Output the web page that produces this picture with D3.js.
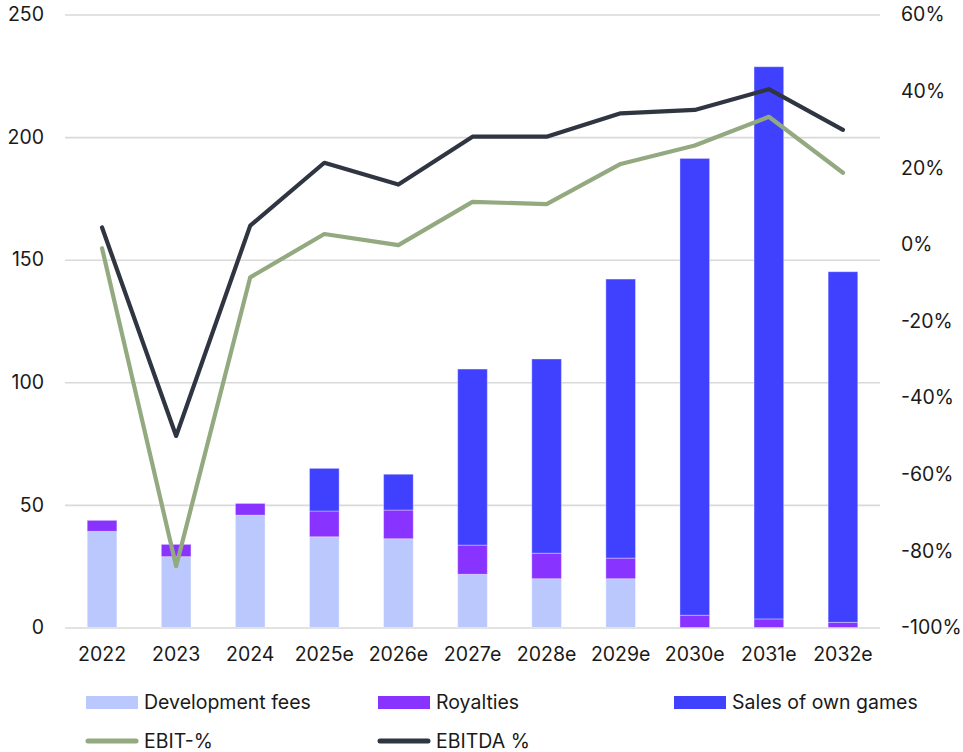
<!DOCTYPE html>
<html>
<head>
<meta charset="utf-8">
<script src="https://cdn.jsdelivr.net/npm/d3@7"></script>
<style>
  html, body { margin: 0; padding: 0; background: #fff; }
  svg { display: block; }
  text { font-family: Inter, "Liberation Sans", Arial, sans-serif; fill: #1a1a1a; }
</style>
</head>
<body>
<svg id="chart" width="963" height="752"></svg>
<script>
const categories = ["2022","2023","2024","2025e","2026e","2027e","2028e","2029e","2030e","2031e","2032e"];
const developmentFees = [39.2, 28.9, 45.8, 37.0, 36.2, 21.7, 19.9, 19.9, 0, 0, 0];
const royalties       = [4.5, 5.0, 4.8, 10.5, 11.7, 11.9, 10.4, 8.4, 5.0, 3.5, 2.1];
const salesOwnGames   = [0, 0, 0, 17.4, 14.6, 71.8, 79.2, 113.8, 186.3, 225.2, 143.0];
const ebitPct   = [-1.0, -84.0, -8.6, 2.7, -0.2, 11.1, 10.5, 21.0, 25.8, 33.3, 18.7];
const ebitdaPct = [4.4, -50.0, 4.9, 21.3, 15.6, 28.1, 28.1, 34.2, 35.1, 40.5, 29.9];
const leftTicks  = [0, 50, 100, 150, 200, 250];
const rightTicks = [-100, -80, -60, -40, -20, 0, 20, 40, 60];
const barSeriesNames = ["Development fees", "Royalties", "Sales of own games"];
const barColors = ["#bbc8fd", "#8833ff", "#4040ff"];
const lineSeriesNames = ["EBIT-%", "EBITDA %"];
const lineColors = ["#93a97f", "#2f3642"];

const svg = d3.select("#chart");
const pLeft = 65, pRight = 880, pTop = 14.5, pBottom = 627.5;
const FONT = "Inter, 'Liberation Sans', Arial, sans-serif";

const x = d3.scaleBand().domain(categories).range([pLeft, pRight]).paddingInner(0.6).paddingOuter(0.3);
const yL = d3.scaleLinear().domain([0, 250]).range([pBottom, pTop]);
const yR = d3.scaleLinear().domain([-100, 60]).range([pBottom, pTop]);

// gridlines
const grid = svg.append("g").attr("transform", `translate(${pLeft},0)`)
  .call(d3.axisLeft(yL).tickValues(leftTicks).tickSize(-(pRight - pLeft)).tickFormat(""));
grid.select(".domain").remove();
grid.selectAll("line").attr("stroke", "#d9d9d9").attr("stroke-width", 1.6);

// left axis labels
const la = svg.append("g").attr("transform", `translate(44,0)`)
  .call(d3.axisLeft(yL).tickValues(leftTicks).tickSize(0).tickPadding(0));
la.select(".domain").remove();
la.selectAll("text").attr("font-size", 19.5).attr("fill", "#1a1a1a").style("font-family", FONT);

// right axis labels
const ra = svg.append("g").attr("transform", `translate(901,0)`)
  .call(d3.axisRight(yR).tickValues(rightTicks).tickSize(0).tickPadding(0).tickFormat(d => d + "%"));
ra.select(".domain").remove();
ra.selectAll("text").attr("font-size", 19.5).attr("fill", "#1a1a1a").style("font-family", FONT);

// x axis labels
const xa = svg.append("g").attr("transform", `translate(0,${pBottom + 19})`)
  .call(d3.axisBottom(x).tickSize(0).tickPadding(0));
xa.select(".domain").remove();
xa.selectAll("text").attr("font-size", 19.5).attr("fill", "#1a1a1a").attr("dy", "0.75em").style("font-family", FONT);

// stacked bars
const rows = categories.map((c, i) => ({cat: c, dev: developmentFees[i], roy: royalties[i], sales: salesOwnGames[i]}));
const stack = d3.stack().keys(["dev", "roy", "sales"])(rows);
svg.append("g").selectAll("g").data(stack).join("g")
  .attr("fill", (d, i) => barColors[i])
  .selectAll("rect").data(d => d.filter(p => p[1] - p[0] > 0)).join("rect")
  .attr("x", d => x(d.data.cat))
  .attr("width", x.bandwidth())
  .attr("y", d => yL(d[1]))
  .attr("height", d => yL(d[0]) - yL(d[1]))
  .attr("stroke", "rgba(255,255,255,0.35)")
  .attr("stroke-width", 1);

// lines
const lineGen = d3.line().x((d, i) => x(categories[i]) + x.bandwidth() / 2).y(d => yR(d));
[ebitPct, ebitdaPct].forEach((s, k) => {
  svg.append("path").datum(s).attr("d", lineGen)
    .attr("fill", "none").attr("stroke", lineColors[k]).attr("stroke-width", 4.2)
    .attr("stroke-linejoin", "round").attr("stroke-linecap", "round");
});

// legend
const legendX = [86, 378, 674];
const lg = svg.append("g");
barSeriesNames.forEach((n, i) => {
  lg.append("rect").attr("x", legendX[i]).attr("y", 696).attr("width", 52).attr("height", 13).attr("fill", barColors[i]);
  lg.append("text").attr("x", legendX[i] + 58).attr("y", 709).attr("font-size", 19.5).text(n);
});
lineSeriesNames.forEach((n, i) => {
  lg.append("line").attr("x1", legendX[i] + 2).attr("x2", legendX[i] + 50).attr("y1", 741).attr("y2", 741)
    .attr("stroke", lineColors[i]).attr("stroke-width", 5).attr("stroke-linecap", "round");
  lg.append("text").attr("x", legendX[i] + 58).attr("y", 748).attr("font-size", 19.5).text(n);
});
</script>
</body>
</html>
